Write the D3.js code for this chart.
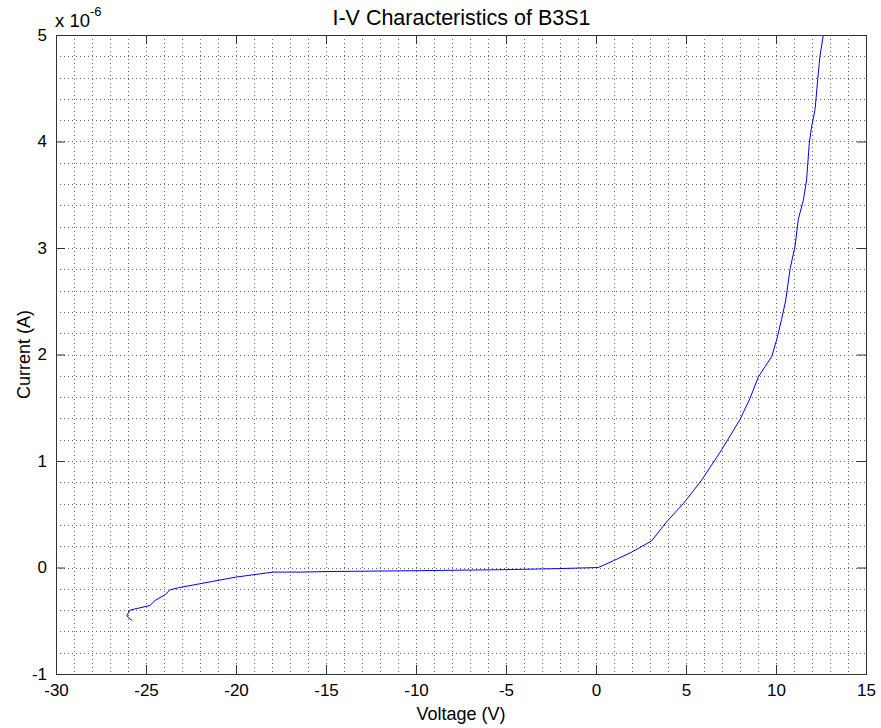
<!DOCTYPE html>
<html>
<head>
<meta charset="utf-8">
<script src="https://cdn.jsdelivr.net/npm/d3@7"></script>
<style>
  html, body { margin: 0; padding: 0; background: #fff; }
  svg { display: block; }
  text { font-family: "Liberation Sans", Arial, Helvetica, sans-serif; fill: #000; }
</style>
</head>
<body>
<svg id="chart" width="881" height="728"></svg>
<script>
// Measured I-V sweep of device B3S1 (current in units of 1e-6 A)
const voltage = [-25.76, -26.07, -25.89, -24.78, -24.5, -23.94, -23.67, -23.2, -20, -17.93,
  -16.4, -15, -10, -5, -2, 0.13, 0.96, 1.98, 3.09, 3.93,
  4.85, 5.87, 6.98, 8.0, 8.56, 9.02, 9.76, 10.04, 10.31, 10.54,
  10.78, 11.06, 11.24, 11.52, 11.7, 11.85, 11.98, 12.17, 12.3, 12.44, 12.63];
const current = [-0.50, -0.454, -0.40, -0.357, -0.31, -0.256, -0.21, -0.19, -0.09, -0.043,
  -0.043, -0.038, -0.03, -0.02, -0.01, 0, 0.063, 0.144, 0.25, 0.43,
  0.60, 0.82, 1.105, 1.39, 1.59, 1.79, 1.98, 2.14, 2.33, 2.51,
  2.80, 3.02, 3.27, 3.45, 3.64, 3.985, 4.14, 4.30, 4.55, 4.80, 5.0];

const xTicks = [-30, -25, -20, -15, -10, -5, 0, 5, 10, 15];
const yTicks = [-1, 0, 1, 2, 3, 4, 5];
const xGrid = d3.range(-30, 15.001, 1);
const yGrid = d3.range(-1, 5.001, 0.2).map(v => +v.toFixed(1));

const titleText = "I-V Characteristics of B3S1";
const xLabel = "Voltage (V)";
const yLabel = "Current (A)";

const svg = d3.select("#chart");
const m = { left: 56, top: 35, right: 15, bottom: 54 };
const W = 881 - m.left - m.right;   // 810
const H = 728 - m.top - m.bottom;   // 639

const x = d3.scaleLinear().domain([-30, 15]).range([0, W]);
const y = d3.scaleLinear().domain([-1, 5]).range([H, 0]);

const g = svg.append("g").attr("transform", `translate(${m.left},${m.top})`);

// dotted grid
const grid = g.append("g").attr("stroke", "#666").attr("stroke-width", 1)
  .attr("stroke-dasharray", "1,3");
grid.selectAll("line.vx").data(xGrid.slice(1, -1)).join("line")
  .attr("x1", d => Math.round(x(d)) + 0.5).attr("x2", d => Math.round(x(d)) + 0.5)
  .attr("y1", 0).attr("y2", H);
grid.selectAll("line.hy").data(yGrid.slice(1, -1)).join("line")
  .attr("y1", d => Math.round(y(d)) + 0.5).attr("y2", d => Math.round(y(d)) + 0.5)
  .attr("x1", 0).attr("x2", W);

// data line
svg.append("defs").append("clipPath").attr("id", "plotClip")
  .append("rect").attr("width", W).attr("height", H);
const pts = voltage.map((v, i) => [v, current[i]]);
g.append("path")
  .attr("clip-path", "url(#plotClip)")
  .datum(pts)
  .attr("fill", "none")
  .attr("stroke", "#0000ff")
  .attr("stroke-width", 1)
  .attr("d", d3.line().x(d => x(d[0])).y(d => y(d[1])));

// axes: bottom/left with labels, top/right with inward ticks only
const tickLen = 9;
const axisColor = "#333";
const plainFmt = d => String(d);   // keep ASCII hyphen for negatives
const axBottom = g.append("g").attr("transform", `translate(0,${H})`)
  .call(d3.axisBottom(x).tickValues(xTicks).tickSizeInner(-tickLen).tickSizeOuter(0)
    .tickFormat(plainFmt));
const axTop = g.append("g")
  .call(d3.axisTop(x).tickValues(xTicks).tickSizeInner(-tickLen).tickSizeOuter(0).tickFormat(""));
const axLeft = g.append("g")
  .call(d3.axisLeft(y).tickValues(yTicks).tickSizeInner(-tickLen).tickSizeOuter(0)
    .tickFormat(plainFmt));
const axRight = g.append("g").attr("transform", `translate(${W},0)`)
  .call(d3.axisRight(y).tickValues(yTicks).tickSizeInner(-tickLen).tickSizeOuter(0).tickFormat(""));

[axBottom, axTop, axLeft, axRight].forEach(a => {
  a.select(".domain").remove();
  a.selectAll(".tick line").attr("stroke", axisColor);
  a.selectAll("text").attr("font-size", "17px").attr("fill", "#000")
    .style("font-family", '"Liberation Sans", Arial, sans-serif');
});
axBottom.selectAll(".tick text").attr("dy", "0.71em").attr("y", 10);
axLeft.selectAll(".tick text").attr("x", -9);

// box
g.append("rect").attr("x", 0.5).attr("y", 0.5).attr("width", W).attr("height", H)
  .attr("fill", "none").attr("stroke", axisColor).attr("stroke-width", 1);

// exponent multiplier
const mult = svg.append("text").attr("x", 55).attr("y", 27).attr("font-size", "18.5px");
mult.append("tspan").text("x 10");
mult.append("tspan").attr("dy", -11).attr("font-size", "13px").text("-6");

// title and axis labels
svg.append("text").attr("x", m.left + W / 2 + 0.5).attr("y", 25).attr("text-anchor", "middle")
  .attr("font-size", "21.5px").text(titleText);
svg.append("text").attr("x", m.left + W / 2).attr("y", 720).attr("text-anchor", "middle")
  .attr("font-size", "18px").text(xLabel);
svg.append("text").attr("transform", `translate(30,${m.top + H / 2}) rotate(-90)`)
  .attr("text-anchor", "middle").attr("font-size", "18px").text(yLabel);
</script>
</body>
</html>
